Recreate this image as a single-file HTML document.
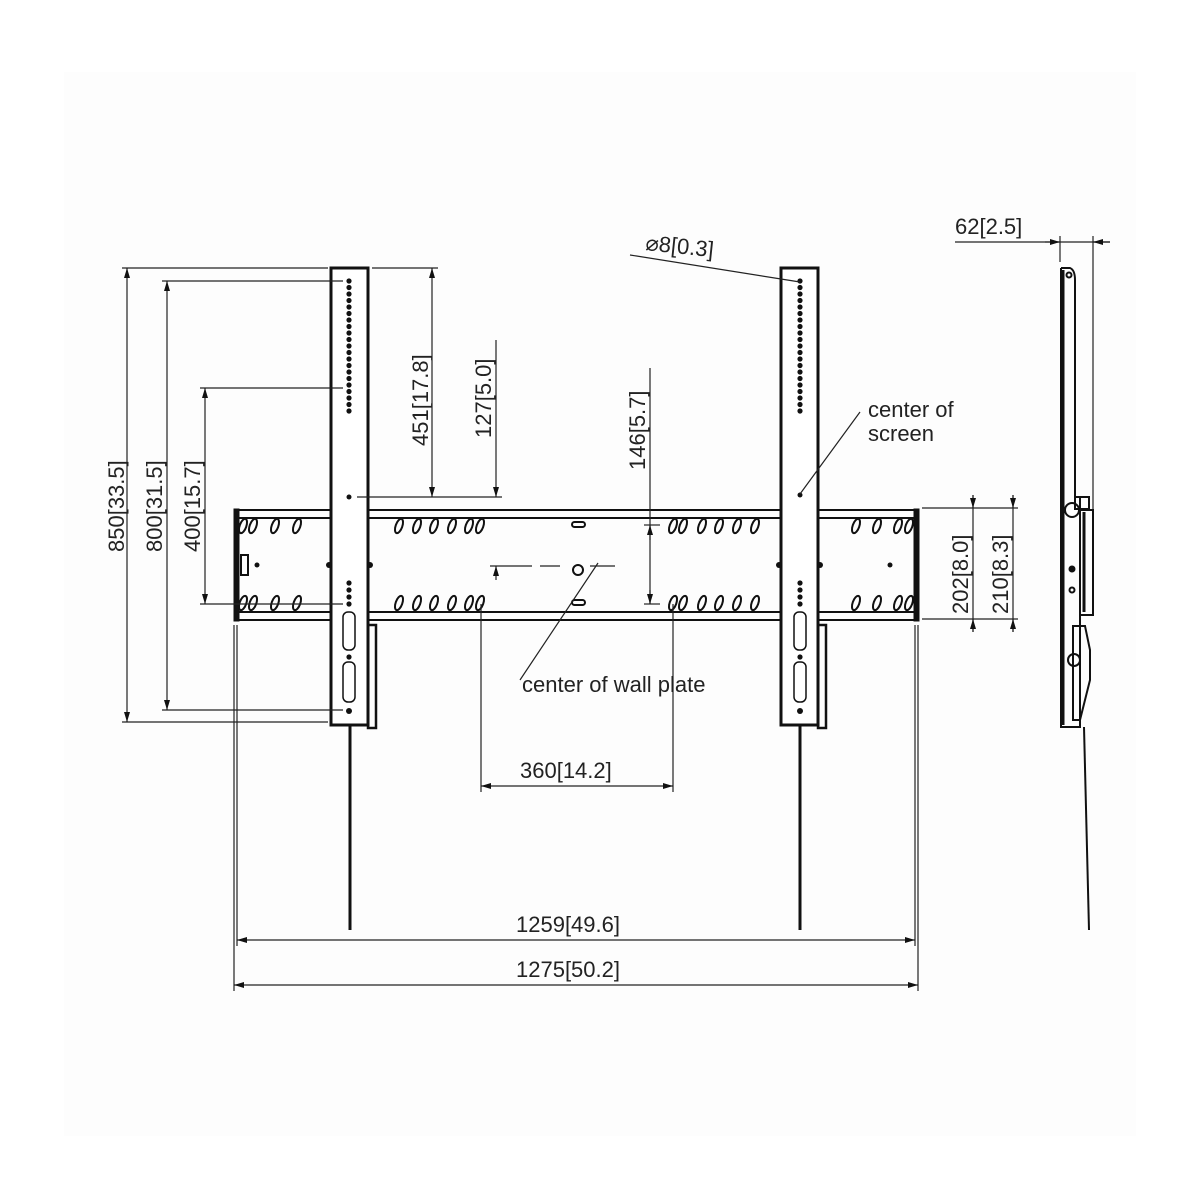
<!DOCTYPE html>
<html><head><meta charset="utf-8"><style>
html,body{margin:0;padding:0;background:#fff}
svg{display:block}
text{font-family:"Liberation Sans",sans-serif;fill:#222;font-size:22px}
</style></head><body>
<svg width="1200" height="1200" viewBox="0 0 1200 1200" xmlns="http://www.w3.org/2000/svg">
<defs>
<marker id="a" viewBox="0 0 10 6" refX="10" refY="3" markerWidth="10" markerHeight="6" orient="auto-start-reverse" markerUnits="userSpaceOnUse"><path d="M0,0L10,3L0,6z" fill="#111"/></marker>
<g id="sl"><ellipse cx="0" cy="0" rx="3.3" ry="7.5" transform="rotate(20)" fill="none" stroke="#111" stroke-width="2"/></g>
</defs>
<rect x="64" y="72" width="1072" height="1064" fill="#fdfdfd"/>
<g stroke="#111" fill="none">
<g stroke-width="2">
<line x1="236" y1="510" x2="916" y2="510"/><line x1="236" y1="518" x2="916" y2="518"/>
<line x1="236" y1="612" x2="916" y2="612"/><line x1="236" y1="620" x2="916" y2="620"/>
</g>
<rect x="234" y="509" width="5" height="112" fill="#111"/>
<rect x="914" y="509" width="5" height="112" fill="#111"/>
<rect x="331" y="268" width="37" height="457" fill="#fff" stroke-width="3"/>
<rect x="781" y="268" width="37" height="457" fill="#fff" stroke-width="3"/>
<rect x="368" y="625" width="8" height="103" stroke-width="2.5"/>
<rect x="818" y="625" width="8" height="103" stroke-width="2.5"/>
<line x1="350" y1="725" x2="350" y2="930" stroke-width="3"/>
<line x1="800" y1="725" x2="800" y2="930" stroke-width="3"/>
<rect x="343" y="612" width="12" height="38" rx="5" stroke-width="1.5"/>
<rect x="343" y="662" width="12" height="40" rx="5" stroke-width="1.5"/>
<rect x="794" y="612" width="12" height="38" rx="5" stroke-width="1.5"/>
<rect x="794" y="662" width="12" height="40" rx="5" stroke-width="1.5"/>
<rect x="241" y="555" width="7" height="20" stroke-width="2"/>
<circle cx="578" cy="570" r="5" stroke-width="2"/>
<rect x="572" y="522" width="13" height="5" rx="2.5" stroke-width="2"/>
<rect x="572" y="600" width="13" height="5" rx="2.5" stroke-width="2"/>
</g>
<g fill="#111">
<circle cx="349" cy="497" r="2.5"/><circle cx="800" cy="495" r="2.5"/>
<circle cx="257" cy="565" r="2.5"/><circle cx="890" cy="565" r="2.5"/>
<circle cx="349" cy="711" r="3"/><circle cx="800" cy="711" r="3"/>
<circle cx="329" cy="565" r="3"/><circle cx="370" cy="565" r="3"/><circle cx="779" cy="565" r="3"/><circle cx="820" cy="565" r="3"/>
</g>
<g fill="#111">
<circle cx="349" cy="281" r="2.6"/><circle cx="349" cy="287.5" r="2.6"/><circle cx="349" cy="294" r="2.6"/><circle cx="349" cy="300.5" r="2.6"/><circle cx="349" cy="307" r="2.6"/><circle cx="349" cy="313.5" r="2.6"/><circle cx="349" cy="320" r="2.6"/><circle cx="349" cy="326.5" r="2.6"/><circle cx="349" cy="333" r="2.6"/><circle cx="349" cy="339.5" r="2.6"/><circle cx="349" cy="346" r="2.6"/><circle cx="349" cy="352.5" r="2.6"/><circle cx="349" cy="359" r="2.6"/><circle cx="349" cy="365.5" r="2.6"/><circle cx="349" cy="372" r="2.6"/><circle cx="349" cy="378.5" r="2.6"/><circle cx="349" cy="385" r="2.6"/><circle cx="349" cy="391.5" r="2.6"/><circle cx="349" cy="398" r="2.6"/><circle cx="349" cy="404.5" r="2.6"/><circle cx="349" cy="411" r="2.6"/>
<circle cx="800" cy="281" r="2.6"/><circle cx="800" cy="287.5" r="2.6"/><circle cx="800" cy="294" r="2.6"/><circle cx="800" cy="300.5" r="2.6"/><circle cx="800" cy="307" r="2.6"/><circle cx="800" cy="313.5" r="2.6"/><circle cx="800" cy="320" r="2.6"/><circle cx="800" cy="326.5" r="2.6"/><circle cx="800" cy="333" r="2.6"/><circle cx="800" cy="339.5" r="2.6"/><circle cx="800" cy="346" r="2.6"/><circle cx="800" cy="352.5" r="2.6"/><circle cx="800" cy="359" r="2.6"/><circle cx="800" cy="365.5" r="2.6"/><circle cx="800" cy="372" r="2.6"/><circle cx="800" cy="378.5" r="2.6"/><circle cx="800" cy="385" r="2.6"/><circle cx="800" cy="391.5" r="2.6"/><circle cx="800" cy="398" r="2.6"/><circle cx="800" cy="404.5" r="2.6"/><circle cx="800" cy="411" r="2.6"/>
<circle cx="349" cy="583" r="2.6"/><circle cx="349" cy="590" r="2.6"/><circle cx="349" cy="597" r="2.6"/><circle cx="349" cy="604" r="2.6"/><circle cx="349" cy="657" r="2.6"/>
<circle cx="800" cy="583" r="2.6"/><circle cx="800" cy="590" r="2.6"/><circle cx="800" cy="597" r="2.6"/><circle cx="800" cy="604" r="2.6"/><circle cx="800" cy="657" r="2.6"/>
</g>
<g>
<use href="#sl" x="243" y="526"/><use href="#sl" x="253" y="526"/><use href="#sl" x="275" y="526"/><use href="#sl" x="297" y="526"/>
<use href="#sl" x="399" y="526"/><use href="#sl" x="417" y="526"/><use href="#sl" x="434" y="526"/><use href="#sl" x="452" y="526"/><use href="#sl" x="469" y="526"/><use href="#sl" x="480" y="526"/>
<use href="#sl" x="673" y="526"/><use href="#sl" x="683" y="526"/><use href="#sl" x="702" y="526"/><use href="#sl" x="719" y="526"/><use href="#sl" x="737" y="526"/><use href="#sl" x="755" y="526"/>
<use href="#sl" x="856" y="526"/><use href="#sl" x="877" y="526"/><use href="#sl" x="898" y="526"/><use href="#sl" x="909" y="526"/>
<use href="#sl" x="243" y="603"/><use href="#sl" x="253" y="603"/><use href="#sl" x="275" y="603"/><use href="#sl" x="297" y="603"/>
<use href="#sl" x="399" y="603"/><use href="#sl" x="417" y="603"/><use href="#sl" x="434" y="603"/><use href="#sl" x="452" y="603"/><use href="#sl" x="469" y="603"/><use href="#sl" x="480" y="603"/>
<use href="#sl" x="673" y="603"/><use href="#sl" x="683" y="603"/><use href="#sl" x="702" y="603"/><use href="#sl" x="719" y="603"/><use href="#sl" x="737" y="603"/><use href="#sl" x="755" y="603"/>
<use href="#sl" x="856" y="603"/><use href="#sl" x="877" y="603"/><use href="#sl" x="898" y="603"/><use href="#sl" x="909" y="603"/>
</g>
<g stroke="#222" stroke-width="1.2" fill="none">
<line x1="122" y1="268" x2="328" y2="268"/><line x1="122" y1="722" x2="328" y2="722"/>
<line x1="127" y1="268" x2="127" y2="722" marker-start="url(#a)" marker-end="url(#a)"/>
<line x1="162" y1="281" x2="343" y2="281"/><line x1="162" y1="710" x2="343" y2="710"/>
<line x1="167" y1="281" x2="167" y2="710" marker-start="url(#a)" marker-end="url(#a)"/>
<line x1="200" y1="388" x2="343" y2="388"/><line x1="200" y1="604" x2="343" y2="604"/>
<line x1="205" y1="388" x2="205" y2="604" marker-start="url(#a)" marker-end="url(#a)"/>
<line x1="372" y1="268" x2="438" y2="268"/><line x1="357" y1="497" x2="502" y2="497"/>
<line x1="432" y1="268" x2="432" y2="497" marker-start="url(#a)" marker-end="url(#a)"/>
<line x1="496" y1="340" x2="496" y2="497" marker-end="url(#a)"/>
<line x1="490" y1="566" x2="532" y2="566"/><line x1="540" y1="566" x2="560" y2="566"/><line x1="590" y1="566" x2="615" y2="566"/>
<line x1="496" y1="580" x2="496" y2="566" marker-end="url(#a)"/>
<line x1="650" y1="368" x2="650" y2="604"/>
<line x1="650" y1="540" x2="650" y2="525" marker-end="url(#a)"/><line x1="650" y1="590" x2="650" y2="604" marker-end="url(#a)"/>
<line x1="644" y1="525" x2="660" y2="525"/><line x1="644" y1="604" x2="660" y2="604"/>
<line x1="481" y1="604" x2="481" y2="792"/><line x1="673" y1="604" x2="673" y2="792"/>
<line x1="481" y1="786" x2="673" y2="786" marker-start="url(#a)" marker-end="url(#a)"/>
<line x1="237" y1="625" x2="237" y2="946"/><line x1="915" y1="625" x2="915" y2="946"/>
<line x1="237" y1="940" x2="915" y2="940" marker-start="url(#a)" marker-end="url(#a)"/>
<line x1="234" y1="625" x2="234" y2="991"/><line x1="918" y1="625" x2="918" y2="991"/>
<line x1="234" y1="985" x2="918" y2="985" marker-start="url(#a)" marker-end="url(#a)"/>
<line x1="922" y1="508" x2="1018" y2="508"/><line x1="922" y1="619" x2="1018" y2="619"/>
<line x1="973" y1="495" x2="973" y2="632"/><line x1="973" y1="495" x2="973" y2="508" marker-end="url(#a)"/><line x1="973" y1="632" x2="973" y2="619" marker-end="url(#a)"/>
<line x1="1013" y1="495" x2="1013" y2="632"/><line x1="1013" y1="495" x2="1013" y2="508" marker-end="url(#a)"/><line x1="1013" y1="632" x2="1013" y2="619" marker-end="url(#a)"/>
<line x1="630" y1="255" x2="800" y2="282"/>
<line x1="860" y1="412" x2="800" y2="494"/>
<line x1="520" y1="680" x2="598" y2="563"/>
<line x1="955" y1="242" x2="1110" y2="242"/>
<line x1="1045" y1="242" x2="1060" y2="242" marker-end="url(#a)"/><line x1="1110" y1="242" x2="1093" y2="242" marker-end="url(#a)"/>
<line x1="1060" y1="236" x2="1060" y2="262"/><line x1="1093" y1="236" x2="1093" y2="510"/>
</g>
<g stroke="#111" fill="none" stroke-width="2">
<path d="M1061,268 L1061,727 L1080,727 L1080,498"/>
<path d="M1061,268 L1070,268 Q1075,270 1075,280 L1075,498"/>
<line x1="1063" y1="270" x2="1063" y2="725" stroke-width="3"/>
<circle cx="1069" cy="275" r="2.5"/>
<circle cx="1072" cy="510" r="7" fill="#fff"/>
<rect x="1075" y="497" width="14" height="12"/>
<rect x="1080" y="510" width="13" height="105"/>
<line x1="1084" y1="512" x2="1084" y2="612" stroke-width="3"/>
<circle cx="1072" cy="569" r="2.5" fill="#111"/><circle cx="1072" cy="590" r="2.5"/>
<path d="M1073,626 L1085,626 L1090,650 L1090,680 L1080,720 L1073,720 Z"/>
<circle cx="1074" cy="660" r="6"/>
<line x1="1084" y1="727" x2="1089" y2="930" stroke-width="2"/>
</g>
<text x="868" y="417">center of</text>
<text x="868" y="441">screen</text>
<text x="522" y="692">center of wall plate</text>
<text x="520" y="778">360[14.2]</text>
<text x="516" y="932">1259[49.6]</text>
<text x="516" y="977">1275[50.2]</text>
<text x="955" y="234">62[2.5]</text>
<text x="645" y="250" transform="rotate(6 645 250)">⌀8[0.3]</text>
<g>
<text transform="translate(124,552) rotate(-90)">850[33.5]</text>
<text transform="translate(162,552) rotate(-90)">800[31.5]</text>
<text transform="translate(200,552) rotate(-90)">400[15.7]</text>
<text transform="translate(428,446) rotate(-90)">451[17.8]</text>
<text transform="translate(491,438) rotate(-90)">127[5.0]</text>
<text transform="translate(645,470) rotate(-90)">146[5.7]</text>
<text transform="translate(968,614) rotate(-90)">202[8.0]</text>
<text transform="translate(1008,614) rotate(-90)">210[8.3]</text>
</g>
</svg>
</body></html>
